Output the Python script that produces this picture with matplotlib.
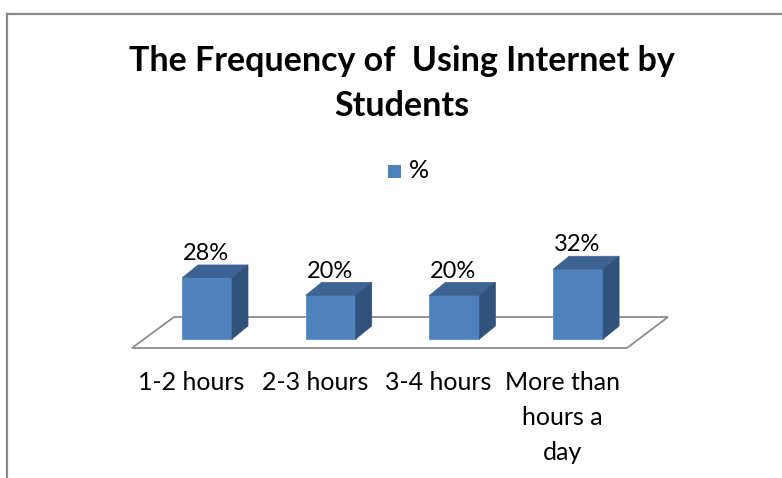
import matplotlib
matplotlib.use("Agg")
import matplotlib.pyplot as plt
from matplotlib.patches import Polygon, Rectangle
from matplotlib.lines import Line2D

categories = ["1-2 hours", "2-3 hours", "3-4 hours", "More than\nhours a\nday"]
values = [28, 20, 20, 32]
value_labels = ["28%", "20%", "20%", "32%"]
series_name = "%"
title_lines = ["The Frequency of  Using Internet by", "Students"]

FONT = "Lato"
W, H = 782, 478
fig = plt.figure(figsize=(W / 100, H / 100), dpi=100)
ax = fig.add_axes([0, 0, 1, 1])
ax.axis("off")

sp = 123.7
x0 = 207.0
ppu = 2.18
base_px = 339.0
ax.set_xlim(-x0 / sp, (W - x0) / sp)
ax.set_ylim(-(H - base_px) / ppu, base_px / ppu)

bw = 50 / sp
dx = 16 / sp
dy = 13 / ppu

front_c = "#4F81BD"
top_c = "#3D6392"
side_c = "#32527E"

fy0 = -9 / ppu
fy1 = 22 / ppu
floor = Polygon([(-75 / sp, fy0), (420 / sp, fy0), (461 / sp, fy1), (-33 / sp, fy1)],
                closed=True, facecolor="white", edgecolor="#8C8C8C", lw=1.3, zorder=1)
ax.add_patch(floor)

for i, v in enumerate(values):
    l = i - bw / 2
    r = i + bw / 2
    ax.add_patch(Polygon([(l, 0), (r, 0), (r, v), (l, v)], closed=True,
                         facecolor=front_c, edgecolor=front_c, lw=0.5, zorder=3))
    ax.add_patch(Polygon([(l, v), (r, v), (r + dx, v + dy), (l + dx, v + dy)], closed=True,
                         facecolor=top_c, edgecolor=top_c, lw=0.5, zorder=3))
    ax.add_patch(Polygon([(r, 0), (r + dx, dy), (r + dx, v + dy), (r, v)], closed=True,
                         facecolor=side_c, edgecolor=side_c, lw=0.5, zorder=3))
    ax.text(i - 1 / sp, v + dy + 2.2, value_labels[i], ha="center", va="baseline",
            fontsize=17, family=FONT, color="black", zorder=4)
    ax.text(i - 16 / sp, -(371 - base_px) / ppu, categories[i], ha="center", va="top",
            fontsize=18, family=FONT, color="black", linespacing=1.62, zorder=4)

# legend
fig.patches.append(Rectangle((388, H - 178), 13, 13, transform=None,
                             facecolor=front_c, edgecolor="none"))
fig.text(409 / W, 1 - 171 / H, series_name, ha="left", va="center",
         fontsize=18, family=FONT)

# title
fig.text(402 / W, 1 - 61 / H, title_lines[0], ha="center", va="center", fontsize=24.5,
         family=FONT, fontweight="bold")
fig.text(402 / W, 1 - 106 / H, title_lines[1], ha="center", va="center", fontsize=24.5,
         family=FONT, fontweight="bold")

# chart area border (partially visible)
fig.lines.append(Line2D([6.5 / W, 6.5 / W], [0, 1 - 14 / H], transform=fig.transFigure,
                        color="#888888", lw=1.6))
fig.lines.append(Line2D([6.5 / W, 1], [1 - 14 / H, 1 - 14 / H], transform=fig.transFigure,
                        color="#888888", lw=1.6))

fig.savefig("out.png", dpi=100)
